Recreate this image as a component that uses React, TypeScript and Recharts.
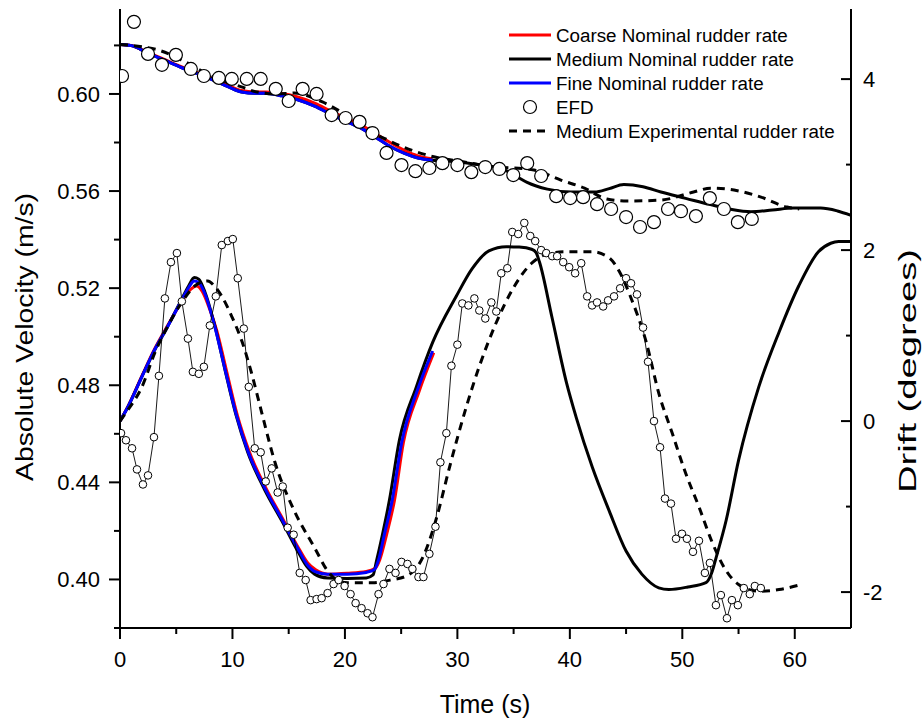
import { ComposedChart, Legend, Line, XAxis, YAxis } from "recharts";

const FONT = "'Liberation Sans', Arial, Helvetica, sans-serif";

// [time (s), absolute velocity (m/s)]
const coarseVelocity = [
  [0, 0.6204], [1.0, 0.62], [2.5, 0.617], [4.0, 0.6141], [5.5, 0.6111], [7.0, 0.6086],
  [8.4, 0.606], [9.6, 0.6036], [10.8, 0.6014], [12.0, 0.6008], [12.9, 0.6008], [14.4, 0.6002],
  [15.8, 0.5988], [17.3, 0.5962], [18.8, 0.5928], [20.2, 0.5898], [21.7, 0.5866], [22.8, 0.5834],
  [23.8, 0.5806], [25.3, 0.5768], [26.5, 0.5745], [27.8, 0.5733],
];
const mediumVelocity = [
  [0, 0.6204], [1.0, 0.6199], [2.5, 0.6168], [4.0, 0.6138], [5.5, 0.6108], [7.0, 0.6082],
  [8.4, 0.6055], [9.6, 0.603], [10.8, 0.6008], [12.0, 0.6003], [12.9, 0.6003], [14.4, 0.5992],
  [15.8, 0.5976], [17.3, 0.595], [18.8, 0.5915], [20.2, 0.5885], [21.7, 0.5852], [22.8, 0.582],
  [23.8, 0.579], [25.3, 0.5755], [26.5, 0.5736], [27.8, 0.5727], [29.7, 0.5722], [32.1, 0.5707],
  [34.2, 0.5687], [35.2, 0.5662], [36.2, 0.5636], [38.0, 0.5608], [40.1, 0.5596], [42.2, 0.5596],
  [43.5, 0.561], [44.8, 0.5627], [46.5, 0.5618], [48.1, 0.5596], [50.3, 0.557], [52.5, 0.5544],
  [54.3, 0.5525], [56.1, 0.5515], [58.0, 0.5522], [59.9, 0.553], [62.3, 0.553], [63.8, 0.5518],
  [65, 0.55],
];
const fineVelocity = [
  [0, 0.6204], [1.0, 0.6199], [2.5, 0.6168], [4.0, 0.6138], [5.5, 0.6108], [7.0, 0.6082],
  [8.4, 0.6055], [9.6, 0.603], [10.8, 0.6008], [12.0, 0.6003], [12.9, 0.6003], [14.4, 0.5992],
  [15.8, 0.5976], [17.3, 0.595], [18.8, 0.5915], [20.2, 0.5885], [21.7, 0.5852], [22.8, 0.582],
  [23.8, 0.579], [25.3, 0.5755], [26.5, 0.5736], [27.8, 0.5727],
];
const efdVelocity = [
  [0.18, 0.6074], [1.24, 0.6297], [2.49, 0.6165], [3.73, 0.612], [4.97, 0.6161], [6.3, 0.6103],
  [7.46, 0.6074], [8.79, 0.6066], [9.94, 0.6062], [11.27, 0.6062], [12.51, 0.6062], [13.85, 0.6021],
  [15.0, 0.5971], [16.24, 0.6021], [17.48, 0.6], [18.82, 0.5913], [20.06, 0.5901], [21.3, 0.5885],
  [22.45, 0.5839], [23.7, 0.5757], [25.03, 0.5707], [26.27, 0.5682], [27.51, 0.5695], [28.67, 0.5715],
  [30.0, 0.5707], [31.24, 0.5678], [32.48, 0.5699], [33.73, 0.5691], [34.97, 0.5666], [36.21, 0.5715],
  [37.45, 0.5662], [38.79, 0.5579], [40.03, 0.5571], [41.18, 0.5575], [42.42, 0.5546], [43.67, 0.5526],
  [45.0, 0.5493], [46.24, 0.5452], [47.48, 0.5472], [48.73, 0.5526], [49.88, 0.5517], [51.21, 0.5497],
  [52.45, 0.5571], [53.7, 0.5526], [54.94, 0.5472], [56.18, 0.5485],
];
const experimentalVelocity = [
  [0, 0.6204], [2.0, 0.6194], [3.4, 0.6181], [5.8, 0.6132], [8.3, 0.607], [10.8, 0.6029],
  [12.2, 0.6008], [14.0, 0.6], [15.5, 0.6004], [18.0, 0.5967], [20.2, 0.5913], [21.6, 0.588],
  [22.6, 0.5839], [23.8, 0.581], [28.0, 0.574], [30.6, 0.572], [32.7, 0.5703], [36.8, 0.5687],
  [39.2, 0.5645], [41.3, 0.5612], [43.3, 0.5567], [45.1, 0.5559], [48.1, 0.5563], [51.0, 0.5596],
  [52.5, 0.5612], [54.6, 0.5604], [57.0, 0.5575], [59.3, 0.5534], [60.4, 0.5526],
];

// [time (s), drift (degrees)]
const coarseDrift = [
  [0, 0], [0.7, 0.17], [1.95, 0.53], [3.1, 0.85], [4.25, 1.12], [5.5, 1.4], [6.2, 1.53],
  [6.8, 1.58], [7.3, 1.52], [8.0, 1.3], [8.6, 1.06], [9.45, 0.6], [10.45, 0.06], [11.5, -0.36],
  [13.0, -0.79], [14.5, -1.15], [15.9, -1.49], [16.7, -1.66], [17.4, -1.74], [18.5, -1.79],
  [20.2, -1.78], [21.9, -1.76], [22.7, -1.72], [23.1, -1.62], [23.7, -1.33], [24.4, -0.93],
  [25.2, -0.25], [26.6, 0.35], [27.9, 0.8],
];
const mediumDrift = [
  [0, 0], [0.7, 0.165], [1.95, 0.52], [3.1, 0.835], [4.25, 1.11], [5.5, 1.43], [6.1, 1.58],
  [6.6, 1.68], [7.0, 1.66], [7.55, 1.51], [8.4, 1.13], [9.3, 0.62], [10.3, 0.08], [11.35, -0.36],
  [12.85, -0.8], [14.4, -1.17], [15.8, -1.52], [16.6, -1.7], [17.3, -1.79], [18.45, -1.835],
  [20.2, -1.84], [21.9, -1.835], [22.5, -1.8], [22.8, -1.64], [23.3, -1.35], [23.95, -0.93],
  [24.85, -0.22], [26.35, 0.4], [27.8, 0.92], [29.9, 1.46], [31.3, 1.78], [32.8, 1.99],
  [34.35, 2.04], [35.5, 2.035], [36.6, 2.01], [37.0, 1.97], [37.3, 1.86], [38.4, 1.22],
  [39.7, 0.45], [40.55, 0.05], [42.0, -0.54], [43.5, -1.05], [45.0, -1.52], [46.4, -1.79],
  [47.9, -1.95], [48.8, -1.97], [50.5, -1.94], [52.1, -1.89], [52.6, -1.78], [53.0, -1.6],
  [53.9, -1.16], [55.0, -0.46], [56.8, 0.4], [58.6, 1.04], [60.35, 1.58], [62.1, 1.98],
  [63.2, 2.08], [63.9, 2.1], [65, 2.1],
];
const fineDrift = [
  [0, 0], [0.7, 0.165], [1.95, 0.52], [3.1, 0.84], [4.25, 1.11], [5.5, 1.42], [6.1, 1.56],
  [6.6, 1.64], [7.0, 1.62], [7.55, 1.49], [8.4, 1.12], [9.35, 0.6], [10.35, 0.07], [11.4, -0.36],
  [12.9, -0.79], [14.45, -1.16], [15.85, -1.5], [16.65, -1.68], [17.35, -1.76], [18.45, -1.79],
  [20.2, -1.79], [21.9, -1.77], [22.6, -1.74], [23.0, -1.62], [23.5, -1.33], [24.2, -0.93],
  [25.05, -0.25], [26.5, 0.38], [27.8, 0.82],
];
const efdDrift = [
  [0.09, -0.141], [0.53, -0.224], [1.07, -0.318], [1.51, -0.565], [2.04, -0.741], [2.49, -0.635],
  [3.02, -0.188], [3.46, 0.529], [3.99, 1.435], [4.53, 1.859], [5.06, 1.965], [5.5, 1.4],
  [6.04, 0.965], [6.48, 0.576], [7.01, 0.553], [7.46, 0.635], [7.99, 1.118], [8.52, 1.459],
  [9.05, 2.059], [9.59, 2.106], [10.03, 2.129], [10.47, 1.671], [11.01, 1.082], [11.45, 0.4],
  [11.98, -0.318], [12.51, -0.365], [12.96, -0.706], [13.49, -0.553], [14.02, -0.835], [14.47, -0.765],
  [14.91, -1.247], [15.44, -1.329], [15.98, -1.776], [16.51, -1.859], [16.95, -2.094], [17.48, -2.082],
  [17.93, -2.071], [18.46, -2.012], [18.99, -1.906], [19.44, -1.859], [19.97, -1.929], [20.5, -2.024],
  [20.95, -2.129], [21.48, -2.188], [22.01, -2.247], [22.45, -2.294], [22.99, -2.024], [23.43, -1.906],
  [23.96, -1.729], [24.5, -1.776], [25.03, -1.647], [25.56, -1.671], [26.0, -1.729], [26.54, -1.824],
  [26.98, -1.824], [27.51, -1.553], [28.05, -1.235], [28.49, -0.482], [29.02, -0.141], [29.47, 0.647],
  [30.0, 0.894], [30.44, 1.376], [30.98, 1.353], [31.51, 1.435], [31.95, 1.294], [32.48, 1.2],
  [33.02, 1.388], [33.46, 1.282], [33.9, 1.729], [34.44, 1.788], [34.88, 2.212], [35.41, 2.188],
  [35.95, 2.318], [36.48, 2.165], [36.92, 2.106], [37.45, 2.0], [37.9, 1.965], [38.43, 1.929],
  [38.87, 1.929], [39.41, 1.859], [39.94, 1.8], [40.47, 1.729], [41.01, 1.847], [41.54, 1.459],
  [41.98, 1.353], [42.42, 1.388], [42.96, 1.341], [43.4, 1.412], [43.93, 1.459], [44.47, 1.553],
  [45.0, 1.671], [45.44, 1.612], [45.97, 1.482], [46.51, 1.094], [46.95, 0.694], [47.48, 0.0],
  [48.02, -0.306], [48.46, -0.906], [48.99, -0.965], [49.44, -1.376], [49.97, -1.318], [50.41, -1.376],
  [50.95, -1.529], [51.48, -1.4], [52.01, -1.776], [52.45, -1.659], [52.99, -2.153], [53.43, -2.035],
  [53.97, -2.306], [54.41, -2.094], [54.94, -2.153], [55.47, -1.953], [56.0, -2.024], [56.45, -1.929],
  [56.98, -1.953],
];
const experimentalDrift = [
  [0, 0], [0.7, 0.13], [1.95, 0.4], [3.1, 0.8], [4.25, 1.11], [5.5, 1.39], [6.65, 1.58],
  [7.8, 1.64], [8.4, 1.58], [9.05, 1.46], [9.95, 1.22], [10.85, 0.93], [11.7, 0.56], [12.6, 0.1],
  [13.75, -0.47], [15.5, -1.05], [17.3, -1.48], [18.45, -1.75], [19.3, -1.86], [20.25, -1.89],
  [22.45, -1.89], [24.0, -1.86], [25.5, -1.81], [26.9, -1.6], [28.15, -1.13], [29.3, -0.54],
  [30.8, 0.17], [31.95, 0.64], [33.45, 1.15], [34.9, 1.54], [36.55, 1.84], [37.9, 1.95],
  [39.5, 1.98], [42.0, 1.98], [43.5, 1.91], [44.4, 1.75], [45.5, 1.42], [46.8, 0.92], [47.9, 0.33],
  [49.1, -0.14], [50.3, -0.61], [51.5, -1.01], [52.6, -1.4], [53.9, -1.75], [55.0, -1.91],
  [56.8, -1.99], [58.6, -1.97], [60.6, -1.91],
];

const timeTicks = [0, 5, 10, 15, 20, 25, 30, 35, 40, 45, 50, 55, 60];
const velocityTicks = [0.38, 0.4, 0.42, 0.44, 0.46, 0.48, 0.5, 0.52, 0.54, 0.56, 0.58, 0.6, 0.62];
const driftTicks = [-2, -1, 0, 1, 2, 3, 4];

const legendLabels = [
  "Coarse Nominal rudder rate",
  "Medium Nominal rudder rate",
  "Fine Nominal rudder rate",
  "EFD",
  "Medium Experimental rudder rate",
];

const toRows = (pairs: number[][], key: string) => pairs.map(([t, y]) => ({ t, [key]: y }));

const MAJOR = 11;
const MINOR = 6;

function BottomTick({ x, y, payload }: any) {
  const major = payload.value % 10 === 0;
  return (
    <g>
      <line x1={x} y1={y} x2={x} y2={y + (major ? MAJOR : MINOR)} stroke="#000" strokeWidth={2} />
      {major && (
        <text x={x} y={y + 39} textAnchor="middle" fontSize={22} fontFamily={FONT} fill="#000">
          {payload.value}
        </text>
      )}
    </g>
  );
}

function TopTick({ x, y, payload }: any) {
  const major = payload.value % 10 === 0;
  return <line x1={x} y1={y} x2={x} y2={y + (major ? MAJOR : MINOR)} stroke="#000" strokeWidth={2} />;
}

function LeftTick({ x, y, payload }: any) {
  const v = payload.value as number;
  const major = Math.round(v * 100) % 4 === 0;
  return (
    <g>
      <line x1={x - (major ? MAJOR : MINOR)} y1={y} x2={x} y2={y} stroke="#000" strokeWidth={2} />
      {major && (
        <text x={x - 20} y={y + 8} textAnchor="end" fontSize={22} fontFamily={FONT} fill="#000">
          {v.toFixed(2)}
        </text>
      )}
    </g>
  );
}

function RightTick({ x, y, payload }: any) {
  const v = payload.value as number;
  const major = v % 2 === 0;
  return (
    <g>
      <line x1={x - (major ? 10 : 5)} y1={y} x2={x} y2={y} stroke="#000" strokeWidth={2} />
      {major && (
        <text x={x + 12} y={y + 8} textAnchor="start" fontSize={22} fontFamily={FONT} fill="#000">
          {v}
        </text>
      )}
    </g>
  );
}

function LegendBox() {
  const colors = ["#ff0000", "#000000", "#0000ff"];
  return (
    <svg width={360} height={120} style={{ overflow: "visible" }}>
      {legendLabels.map((label, i) => {
        const cy = 7 + i * 24;
        let sample;
        if (i < 3) {
          sample = <line x1={4} x2={46} y1={cy} y2={cy} stroke={colors[i]} strokeWidth={3} />;
        } else if (i === 3) {
          sample = <circle cx={25} cy={cy} r={6.5} fill="#fff" stroke="#000" strokeWidth={1.2} />;
        } else {
          sample = (
            <line x1={4} x2={46} y1={cy} y2={cy} stroke="#000" strokeWidth={3} strokeDasharray="8 6" />
          );
        }
        return (
          <g key={label}>
            {sample}
            <text x={51} y={cy + 6.5} fontSize={18.8} fontFamily={FONT} fill="#000">
              {label}
            </text>
          </g>
        );
      })}
    </svg>
  );
}

export default function App() {
  const lineProps = { dot: false, activeDot: false, isAnimationActive: false, type: "monotone" as const };
  return (
    <div style={{ position: "absolute", left: 0, top: 0 }}>
      <ComposedChart width={924} height={721} margin={{ top: 9, right: 0, bottom: 0, left: 0 }}>
        <XAxis
          xAxisId="b"
          dataKey="t"
          type="number"
          domain={[0, 65]}
          allowDataOverflow
          ticks={timeTicks}
          interval={0}
          height={93}
          tickSize={0}
          tickMargin={0}
          tickLine={false}
          axisLine={{ stroke: "#000", strokeWidth: 2 }}
          tick={BottomTick}
          label={() => (
            <text x={485} y={713} textAnchor="middle" fontSize={25} fontFamily={FONT} fill="#000">
              Time (s)
            </text>
          )}
        />
        <XAxis
          xAxisId="top"
          orientation="top"
          dataKey="t"
          type="number"
          domain={[0, 65]}
          allowDataOverflow
          ticks={timeTicks}
          interval={0}
          height={0}
          tickSize={0}
          tickMargin={0}
          tickLine={false}
          axisLine={{ stroke: "#000", strokeWidth: 2 }}
          tick={TopTick}
        />
        <YAxis
          yAxisId="v"
          type="number"
          domain={[0.38, 0.635]}
          allowDataOverflow
          ticks={velocityTicks}
          interval={0}
          width={120}
          tickSize={0}
          tickMargin={0}
          tickLine={false}
          axisLine={{ stroke: "#000", strokeWidth: 2 }}
          tick={LeftTick}
          label={() => (
            <text
              transform="translate(25,337) rotate(-90)"
              dy="0.35em"
              textAnchor="middle"
              fontSize={23.5}
              fontFamily={FONT}
              fill="#000"
              textLength={288}
              lengthAdjust="spacingAndGlyphs"
            >
              Absolute Velocity (m/s)
            </text>
          )}
        />
        <YAxis
          yAxisId="d"
          orientation="right"
          type="number"
          domain={[-2.42, 4.82]}
          allowDataOverflow
          ticks={driftTicks}
          interval={0}
          width={73}
          tickSize={0}
          tickMargin={0}
          tickLine={false}
          axisLine={{ stroke: "#000", strokeWidth: 2 }}
          tick={RightTick}
          label={() => (
            <text
              transform="translate(908,371) rotate(-90)"
              dy="0.35em"
              textAnchor="middle"
              fontSize={23}
              fontFamily={FONT}
              fill="#000"
              textLength={244}
              lengthAdjust="spacingAndGlyphs"
            >
              Drift (degrees)
            </text>
          )}
        />
        <Legend
          layout="vertical"
          align="center"
          verticalAlign="middle"
          wrapperStyle={{ left: 505, top: 28, width: 360, height: 120 }}
          content={() => <LegendBox />}
        />

        <Line {...lineProps} xAxisId="b" yAxisId="v" data={toRows(coarseVelocity, "v")} dataKey="v" stroke="#ff0000" strokeWidth={3} />
        <Line {...lineProps} xAxisId="b" yAxisId="v" data={toRows(mediumVelocity, "v")} dataKey="v" stroke="#000000" strokeWidth={3} />
        <Line {...lineProps} xAxisId="b" yAxisId="v" data={toRows(fineVelocity, "v")} dataKey="v" stroke="#0000ff" strokeWidth={3} />

        <Line {...lineProps} xAxisId="b" yAxisId="d" data={toRows(coarseDrift, "d")} dataKey="d" stroke="#ff0000" strokeWidth={3} />
        <Line {...lineProps} xAxisId="b" yAxisId="d" data={toRows(mediumDrift, "d")} dataKey="d" stroke="#000000" strokeWidth={3} />
        <Line {...lineProps} xAxisId="b" yAxisId="d" data={toRows(fineDrift, "d")} dataKey="d" stroke="#0000ff" strokeWidth={3} />

        <Line
          xAxisId="b"
          yAxisId="d"
          data={toRows(efdDrift, "d")}
          dataKey="d"
          type="linear"
          stroke="#000"
          strokeWidth={0.9}
          dot={{ r: 3.8, fill: "#fff", stroke: "#000", strokeWidth: 1 }}
          activeDot={false}
          isAnimationActive={false}
        />
        <Line
          xAxisId="b"
          yAxisId="v"
          data={toRows(efdVelocity, "v")}
          dataKey="v"
          type="linear"
          stroke="none"
          strokeWidth={0}
          dot={{ r: 6.5, fill: "#fff", stroke: "#000", strokeWidth: 1.2 }}
          activeDot={false}
          isAnimationActive={false}
        />

        <Line {...lineProps} xAxisId="b" yAxisId="v" data={toRows(experimentalVelocity, "v")} dataKey="v" stroke="#000" strokeWidth={3} strokeDasharray="8 6" />
        <Line {...lineProps} xAxisId="b" yAxisId="d" data={toRows(experimentalDrift, "d")} dataKey="d" stroke="#000" strokeWidth={3} strokeDasharray="8 6" />
      </ComposedChart>
    </div>
  );
}
